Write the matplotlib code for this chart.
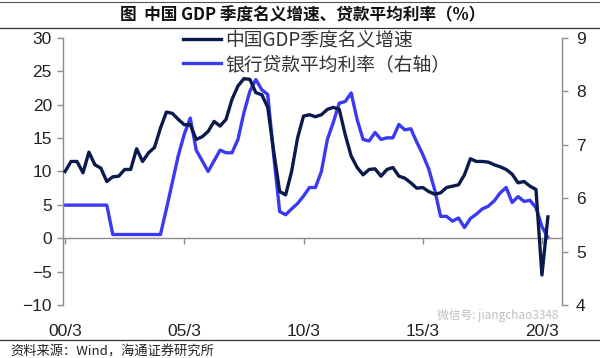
import numpy as np
import matplotlib
matplotlib.use('Agg')
import matplotlib.pyplot as plt
from matplotlib.lines import Line2D

# quarterly, 2000Q1 .. 2020Q2
gdp = [10.0, 11.5, 11.5, 9.8, 12.9, 11.0, 10.5, 8.5, 9.2, 9.3, 10.3, 10.3,
       13.4, 11.5, 12.8, 13.6, 16.5, 18.9, 18.7, 17.8, 17.0, 17.0, 14.8, 15.2,
       16.0, 17.5, 16.8, 17.8, 20.8, 22.8, 23.9, 23.8, 21.8, 21.5, 19.6, 13.0,
       7.0, 6.5, 10.0, 15.0, 18.3, 18.5, 18.2, 18.5, 19.3, 19.6, 19.3, 15.5,
       12.3, 10.6, 9.5, 10.3, 10.4, 9.3, 10.3, 10.6, 9.3, 9.0, 8.3, 7.5,
       7.6, 7.0, 6.6, 6.8, 7.6, 7.8, 8.0, 9.5, 11.9, 11.5, 11.5, 11.4,
       11.0, 10.7, 10.3, 9.6, 8.3, 8.5, 7.8, 7.3, -5.5, 3.2]
loan = [5.87, 5.87, 5.87, 5.87, 5.87, 5.87, 5.87, 5.87, 5.32, 5.32, 5.32, 5.32,
        5.32, 5.32, 5.32, 5.32, 5.32, 5.8, 6.3, 6.8, 7.2, 7.5, 6.9, 6.7,
        6.5, 6.7, 6.9, 6.85, 6.85, 7.1, 7.6, 8.0, 8.22, 8.03, 7.94, 6.8,
        5.75, 5.69, 5.8, 5.9, 6.04, 6.2, 6.2, 6.5, 7.1, 7.42, 7.78, 7.81,
        7.97, 7.47, 7.1, 7.07, 7.23, 7.1, 7.13, 7.13, 7.38, 7.28, 7.3, 7.05,
        6.82, 6.55, 6.16, 5.66, 5.66, 5.57, 5.63, 5.45, 5.62, 5.7, 5.8, 5.85,
        5.95, 6.1, 6.2, 5.92, 6.03, 5.94, 5.96, 5.82, 5.47, 5.26]
xticks = [0, 20, 40, 60, 80]
xlabels = ['00/3', '05/3', '10/3', '15/3', '20/3']

cjk = ['Noto Sans CJK SC', 'DejaVu Sans']
num_font = 'Liberation Sans'
navy = '#0b1a4c'
blue = '#3a3af2'
grey = '#8c8c8c'

fig = plt.figure(figsize=(6, 3.58), dpi=100)
ax = fig.add_axes([0.105, 0.148, 0.832, 0.746])
ax2 = ax.twinx()

x = np.arange(len(gdp))
l1, = ax.plot(x, gdp, color=navy, lw=2.4, zorder=3)
l2, = ax2.plot(x, loan, color=blue, lw=2.4, zorder=2)

ax.set_xlim(-0.35, 83.4)
ax.set_ylim(-10, 30)
ax.set_yticks(range(-10, 31, 5))
ax2.set_ylim(4, 9)
ax2.set_yticks(range(4, 10))

for a in (ax, ax2):
    for s in a.spines.values():
        s.set_color(grey)
        s.set_linewidth(1.0)
    a.spines['top'].set_visible(False)
    a.tick_params(colors=grey, labelcolor='#222222', labelsize=12.5, length=4, width=1.0)
    for t in a.get_yticklabels():
        t.set_fontfamily(num_font)

ax.spines['right'].set_visible(False)
ax2.spines['left'].set_visible(False)
ax2.spines['bottom'].set_visible(False)
ax.spines['bottom'].set_position(('data', 0))
ax.set_xticks(xticks)
ax.set_xticklabels(xlabels, fontfamily=num_font, fontsize=12.5)
ax.tick_params(axis='x', pad=58)
ax.tick_params(axis='y', pad=4)
ax2.tick_params(axis='y', pad=6)
ax2.set_zorder(ax.get_zorder() - 1)
ax.patch.set_visible(False)

leg = ax.legend([l1, l2], ['中国GDP季度名义增速', '银行贷款平均利率（右轴）'],
                loc='upper left', bbox_to_anchor=(0.222, 1.068), frameon=False,
                prop={'family': cjk, 'size': 13.5}, handlelength=2.0,
                handletextpad=0.25, labelspacing=0.2, borderpad=0)
for t in leg.get_texts():
    t.set_color('#333333')

fig.text(0.505, 0.956, '图  中国 GDP 季度名义增速、贷款平均利率（%）', ha='center', va='center',
         fontsize=12, fontweight='bold', family=cjk, color='#111111')
fig.add_artist(Line2D([0.0, 1.0], [0.995, 0.995], color='#555555', lw=0.8))
fig.add_artist(Line2D([0.0, 1.0], [0.922, 0.922], color='#333333', lw=0.9))
fig.add_artist(Line2D([0.0, 1.0], [0.05, 0.05], color='#333333', lw=0.9))
fig.text(0.018, 0.018, '资料来源：Wind，海通证券研究所', ha='left', va='center',
         fontsize=9.5, family=cjk, color='#222222')
fig.text(0.83, 0.118, '微信号: jiangchao3348', ha='center', va='center',
         fontsize=8.5, family=cjk, color='#b0b0b0', alpha=0.8)

fig.savefig('out.png', dpi=100)
